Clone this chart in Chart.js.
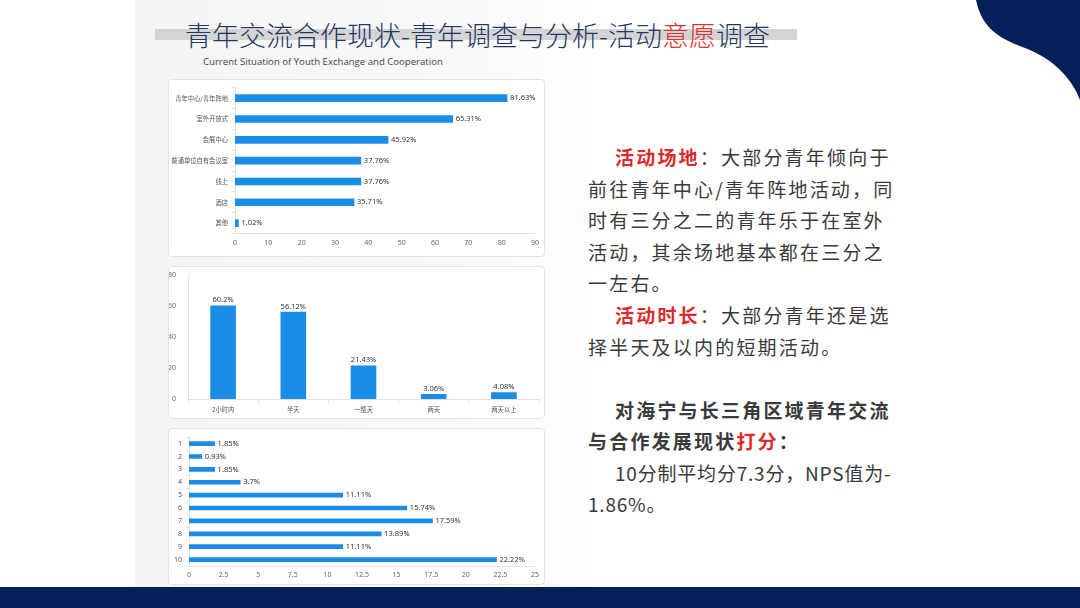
<!DOCTYPE html>
<html>
<head>
<meta charset="utf-8">
<script src="https://cdn.jsdelivr.net/npm/chart.js@4.4.0/dist/chart.umd.min.js"></script>
<style>
  body { margin: 0; background: #fff; }
  #slide { position: relative; width: 1080px; height: 608px; overflow: hidden; background: #fff;
    font-family: "Noto Sans CJK SC", "Noto Sans", sans-serif; }
  #shade { position: absolute; left: 135px; top: 0; width: 470px; height: 587px;
    background: linear-gradient(to right, #f5f5f5 0%, #f9f9f9 70%, rgba(255,255,255,0) 100%); }
  #bottom { position: absolute; left: 0; top: 587px; width: 1080px; height: 21px; background: #03205a; }
  #titlebar { position: absolute; left: 155px; top: 29px; width: 642px; height: 11px; background: #d4d4d4; }
  #title { position: absolute; left: 185px; top: 16px; font-size: 27px; line-height: 38px; color: #1f3864;
    font-weight: 300; white-space: nowrap; }
  #sub { position: absolute; left: 203px; top: 55px; font-family: "Open Sans", sans-serif; font-size: 9.6px;
    color: #444; white-space: nowrap; }
  .card { position: absolute; left: 168px; width: 377px; background: #fff; border: 1px solid #e4e4e4;
    border-radius: 4px; box-sizing: border-box; }
  .card canvas { position: absolute; left: 0; top: 0; }
  .red { color: #dc2b2b; font-weight: bold; }
  .ln { position: absolute; font-size: 19px; line-height: 30px; color: #3a3a3a; letter-spacing: 2.2px; white-space: nowrap; }
  .b { font-weight: bold; }
  .num { letter-spacing: 0.8px; }
</style>
</head>
<body>
<div id="slide">
  <div id="shade"></div>
  <svg style="position:absolute;left:0;top:0" width="1080" height="608">
    <path d="M976,0 C982,28 998,38 1025,48 C1052,58 1072,78 1080,100 L1080,0 Z" fill="#03205a"/>
  </svg>
  <div id="titlebar"></div>
  <div id="title">青年交流合作现状-青年调查与分析-活动<span style="color:#e03030">意愿</span>调查</div>
  <div id="sub">Current Situation of Youth Exchange and Cooperation</div>

  <div class="card" style="top:79px;height:178px;"><canvas id="c1"></canvas></div>
  <div class="card" style="top:266px;height:153px;"><canvas id="c2"></canvas></div>
  <div class="card" style="top:428px;height:157px;"><canvas id="c3"></canvas></div>

  <div class="ln" style="left:615px;top:142px;"><span class="red">活动场地</span>：大部分青年倾向于</div>
  <div class="ln" style="left:588px;top:174px;">前往青年中心/青年阵地活动，同</div>
  <div class="ln" style="left:588px;top:205px;">时有三分之二的青年乐于在室外</div>
  <div class="ln" style="left:588px;top:237px;">活动，其余场地基本都在三分之</div>
  <div class="ln" style="left:588px;top:268px;">一左右。</div>
  <div class="ln" style="left:615px;top:300px;"><span class="red">活动时长</span>：大部分青年还是选</div>
  <div class="ln" style="left:588px;top:332px;">择半天及以内的短期活动。</div>
  <div class="ln b" style="left:615px;top:395px;">对海宁与长三角区域青年交流</div>
  <div class="ln b" style="left:588px;top:426px;">与合作发展现状<span class="red">打分</span>：</div>
  <div class="ln num" style="left:615px;top:458px;">10分制平均分7.3分，NPS值为-</div>
  <div class="ln num" style="left:588px;top:489px;">1.86%。</div>

  <div id="bottom"></div>
</div>

<script>
// venue preference
const venueLabels = ["青年中心/青年阵地", "室外开放式", "会展中心", "普通单位自有会议室", "线上", "酒店", "其他"];
const venueValues = [81.63, 65.31, 45.92, 37.76, 37.76, 35.71, 1.02];

// activity duration
const durationLabels = ["2小时内", "半天", "一整天", "两天", "两天以上"];
const durationValues = [60.2, 56.12, 21.43, 3.06, 4.08];

// score 1-10
const scoreLabels = ["1", "2", "3", "4", "5", "6", "7", "8", "9", "10"];
const scoreValues = [1.85, 0.93, 1.85, 3.7, 11.11, 15.74, 17.59, 13.89, 11.11, 22.22];

const BLUE = "#1a8ee6";
const numFont = { family: "Noto Sans", size: 7 };
const catFont = { family: "Noto Sans CJK SC", size: 6.3 };
Chart.defaults.animation = false;
Chart.defaults.color = "#666";

// draws "xx%" next to each bar
const valueLabels = {
    id: "valueLabels",
    afterDatasetsDraw(chart) {
        let ctx = chart.ctx;
        let horiz = chart.options.indexAxis === "y";
        let meta = chart.getDatasetMeta(0);
        let vals = chart.data.datasets[0].data;
        ctx.save();
        ctx.fillStyle = "#333";
        ctx.font = "7.5px 'Noto Sans', sans-serif";
        meta.data.forEach((bar, i) => {
            let txt = vals[i] + "%";
            if (horiz) {
                ctx.textAlign = "left";
                ctx.textBaseline = "middle";
                ctx.fillText(txt, bar.x + 3, bar.y);
            } else {
                ctx.textAlign = "center";
                ctx.textBaseline = "bottom";
                ctx.fillText(txt, bar.x, bar.y - 2);
            }
        });
        ctx.restore();
    }
};

function hbar(id, labels, values, opt) {
    let ctx = document.getElementById(id).getContext("2d");
    return new Chart(ctx, {
        type: "bar",
        data: { labels: labels, datasets: [{ data: values, backgroundColor: BLUE, barThickness: opt.thick }] },
        options: {
            indexAxis: "y",
            responsive: true,
            maintainAspectRatio: false,
            layout: { padding: opt.pad },
            plugins: { legend: { display: false }, tooltip: { enabled: false } },
            scales: {
                x: {
                    min: 0, max: opt.max,
                    ticks: { stepSize: opt.step, font: numFont, padding: 5, color: "#666" },
                    grid: { display: false, drawTicks: false },
                    border: { color: "#e2e2e2" },
                    afterFit: (s) => { s.height = opt.xh; }
                },
                y: {
                    ticks: { font: opt.yfont, padding: 4, color: "#555" },
                    grid: { drawOnChartArea: false, tickLength: 3, color: "#e2e2e2", offset: true },
                    border: { color: "#e2e2e2" },
                    afterFit: (s) => { s.width = opt.yw; }
                }
            }
        },
        plugins: [valueLabels]
    });
}

hbar("c1", venueLabels, venueValues, { max: 90, step: 10, thick: 7, yw: 66, xh: 18, yfont: catFont,
    pad: { left: 0, right: 9, top: 6.5, bottom: 4.5 } });
hbar("c3", scoreLabels, scoreValues, { max: 25, step: 2.5, thick: 4, yw: 20, xh: 15, yfont: numFont,
    pad: { left: 0, right: 7, top: 4, bottom: 3 } });

new Chart(document.getElementById("c2").getContext("2d"), {
    type: "bar",
    data: { labels: durationLabels, datasets: [{ data: durationValues, backgroundColor: BLUE, barThickness: 25 }] },
    options: {
        responsive: true,
        maintainAspectRatio: false,
        layout: { padding: { left: 0, right: 5, top: 2, bottom: 5 } },
        plugins: { legend: { display: false }, tooltip: { enabled: false } },
        scales: {
            x: {
                ticks: { font: catFont, padding: 3, color: "#555" },
                grid: { drawOnChartArea: false, tickLength: 4, color: "#e2e2e2", offset: true },
                border: { color: "#e2e2e2" },
                afterFit: (s) => { s.height = 14; }
            },
            y: {
                min: 0, max: 80,
                ticks: { stepSize: 20, font: numFont, padding: 4, color: "#666" },
                grid: { display: false },
                border: { color: "#e2e2e2" },
                afterFit: (s) => { s.width = 19; }
            }
        }
    },
    plugins: [valueLabels]
});
</script>
</body>
</html>
